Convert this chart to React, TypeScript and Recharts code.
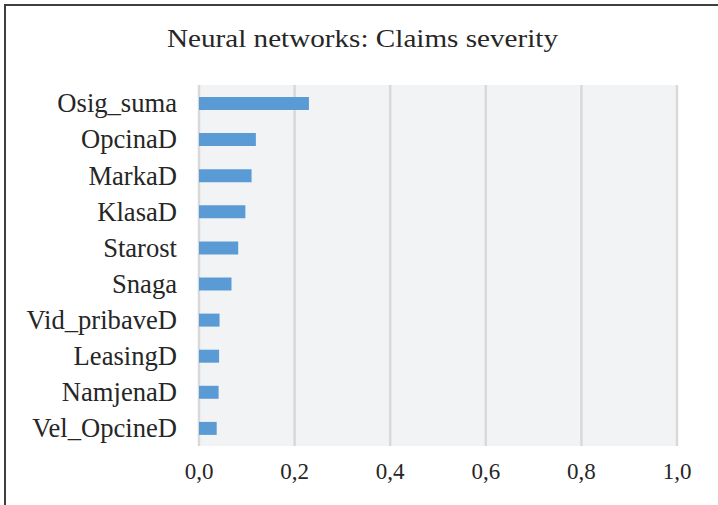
import { Bar, BarChart, CartesianGrid, XAxis, YAxis } from 'recharts'

const categories = [
  'Osig_suma',
  'OpcinaD',
  'MarkaD',
  'KlasaD',
  'Starost',
  'Snaga',
  'Vid_pribaveD',
  'LeasingD',
  'NamjenaD',
  'Vel_OpcineD',
]
const importance = [0.23, 0.119, 0.11, 0.097, 0.082, 0.068, 0.043, 0.042, 0.041, 0.037]
const xTicks = [0, 0.2, 0.4, 0.6, 0.8, 1.0]
const title = 'Neural networks: Claims severity'

const data = categories.map((name, i) => ({ name, value: importance[i] }))

const serif = 'Liberation Serif'

function CategoryTick(props: any) {
  const { x, y, payload } = props
  return (
    <text x={x} y={y} dy="0.35em" textAnchor="end" fontFamily={serif} fontSize={26.6} fill="#262626">
      {payload.value}
    </text>
  )
}

function ValueTick(props: any) {
  const { x, y, payload } = props
  return (
    <text x={x} y={y} dy="0.71em" textAnchor="middle" fontFamily={serif} fontSize={23} fill="#262626">
      {Number(payload.value).toFixed(1).replace('.', ',')}
    </text>
  )
}

export default function App() {
  return (
    <div style={{ position: 'absolute', left: 0, top: 0, width: 718, height: 505, background: '#fff', overflow: 'hidden' }}>
      <div
        style={{
          position: 'absolute',
          left: 4,
          top: 4,
          width: 760,
          height: 560,
          borderTop: '2px solid #3f3f3f',
          borderLeft: '2px solid #3f3f3f',
        }}
      />
      <BarChart
        width={718}
        height={505}
        data={data}
        layout="vertical"
        margin={{ top: 85, right: 41, bottom: 29, left: 0 }}
        barCategoryGap={0}
        style={{ position: 'absolute', left: 0, top: 0 }}
      >
        <CartesianGrid fill="#F2F3F5" horizontal={false} stroke="#D9D9D9" strokeWidth={2.5} />
        <XAxis
          type="number"
          domain={[0, 1]}
          ticks={xTicks}
          interval={0}
          height={30}
          axisLine={false}
          tickLine={false}
          tickSize={0}
          tickMargin={17}
          tick={<ValueTick />}
        />
        <YAxis
          type="category"
          dataKey="name"
          width={199}
          axisLine={false}
          tickLine={false}
          tickSize={0}
          tickMargin={22}
          interval={0}
          tick={<CategoryTick />}
        />
        <Bar dataKey="value" fill="#5B9BD5" barSize={13} isAnimationActive={false} />
        <text
          x={362.5}
          y={47}
          textAnchor="middle"
          fontFamily={serif}
          fontSize={26}
          textLength={391}
          lengthAdjust="spacingAndGlyphs"
          fill="#262626"
        >
          {title}
        </text>
      </BarChart>
    </div>
  )
}
